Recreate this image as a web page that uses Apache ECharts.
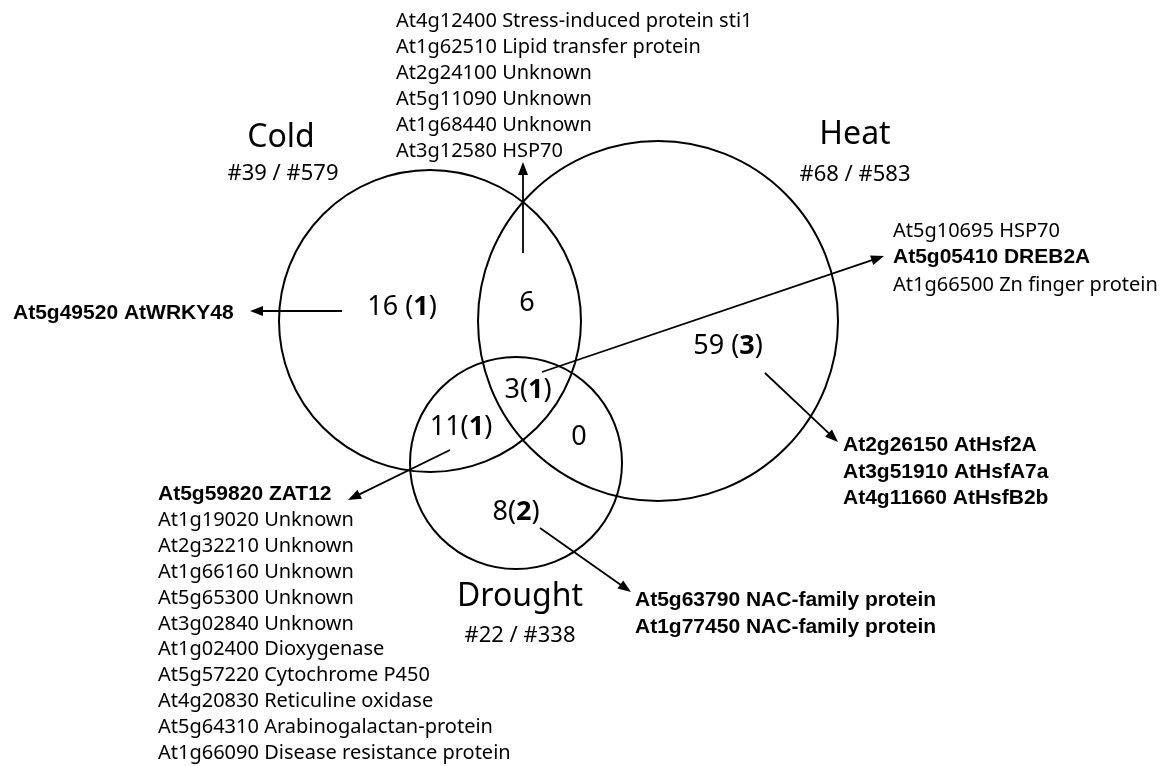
<!DOCTYPE html>
<html><head><meta charset="utf-8">
<script src="https://cdn.jsdelivr.net/npm/echarts@6/dist/echarts.min.js"></script>
<style>html,body{margin:0;padding:0;background:#fff}#c{width:1168px;height:766px}</style>
</head><body><div id="c"></div>
<script>
// ---------------- DATA ----------------
const setNames = ['Cold', 'Heat', 'Drought'];
const setTotals = ['#39 / #579', '#68 / #583', '#22 / #338'];
const regionKeys = ['C', 'CH', 'H', 'CD', 'CHD', 'HD', 'D'];
const regionCounts = [16, 6, 59, 11, 3, 0, 8];
const regionTFs = [1, null, 3, 1, 1, null, 2];

const genesC = ['At5g49520 AtWRKY48'];
const genesCH = [
  'At4g12400 Stress-induced protein sti1',
  'At1g62510 Lipid transfer protein',
  'At2g24100 Unknown',
  'At5g11090 Unknown',
  'At1g68440 Unknown',
  'At3g12580 HSP70'
];
const genesCHD = [
  'At5g10695 HSP70',
  'At5g05410 DREB2A',
  'At1g66500 Zn finger protein'
];
const genesH = [
  'At2g26150 AtHsf2A',
  'At3g51910 AtHsfA7a',
  'At4g11660 AtHsfB2b'
];
const genesCD = [
  'At5g59820 ZAT12',
  'At1g19020 Unknown',
  'At2g32210 Unknown',
  'At1g66160 Unknown',
  'At5g65300 Unknown',
  'At3g02840 Unknown',
  'At1g02400 Dioxygenase',
  'At5g57220 Cytochrome P450',
  'At4g20830 Reticuline oxidase',
  'At5g64310 Arabinogalactan-protein',
  'At1g66090 Disease resistance protein'
];
const genesD = [
  'At5g63790 NAC-family protein',
  'At1g77450 NAC-family protein'
];
const tfGenes = ['At5g49520', 'At5g05410', 'At2g26150', 'At3g51910', 'At4g11660', 'At5g59820', 'At5g63790', 'At1g77450'];

// ---------------- LAYOUT (pixel space of hidden axes) ----------------
const W = 1168, H = 766;
const circleLayout = [
  { cx: 430, cy: 321, r: 151 },
  { cx: 658, cy: 321, r: 180 },
  { cx: 516, cy: 463, r: 106 }
];
const titleLayout = [
  { x: 281, y: 149, tx: 283, ty: 182 },
  { x: 855, y: 146, tx: 855, ty: 183 },
  { x: 520, y: 608, tx: 520, ty: 644 }
];
const regionLayout = {
  C: { x: 402, y: 317, sp: true },
  CH: { x: 527, y: 313, sp: false },
  H: { x: 728, y: 356, sp: true },
  CD: { x: 461, y: 437, sp: false },
  CHD: { x: 528, y: 400, sp: false },
  HD: { x: 579, y: 447, sp: false },
  D: { x: 516, y: 522, sp: false }
};
const arrowLayout = {
  C: [[342, 311], [250, 311]],
  CH: [[523, 253], [523, 162]],
  CHD: [[542, 372], [884, 256]],
  H: [[765, 373], [838, 442]],
  CD: [[450, 450], [348, 500]],
  D: [[540, 528], [631, 592]]
};
const listLayout = {
  C: { x: 13, y: 321, dy: 26, genes: genesC },
  CH: { x: 396, y: 28, dy: 26, genes: genesCH },
  CHD: { x: 893, y: 238, dy: 27, genes: genesCHD },
  H: { x: 843, y: 453, dy: 26.5, genes: genesH },
  CD: { x: 158, y: 502, dy: 25.8, genes: genesCD },
  D: { x: 635, y: 608, dy: 27, genes: genesD }
};

const REG = '"Noto Sans", "Open Sans", sans-serif';
const BOLD = '"Liberation Sans", Arial, sans-serif';

function textEl(api, x, y, text, size, family, weight, align) {
  const p = api.coord([x, y - 0.36 * size]);
  return {
    type: 'text', x: p[0], y: p[1],
    style: { text: text, fill: '#000', fontSize: size, fontFamily: family, fontWeight: weight || 'normal',
      align: align || 'left', verticalAlign: 'middle' }
  };
}

function arrowEls(api, a, b) {
  const p0 = api.coord(a), p1 = api.coord(b);
  const dx = p1[0] - p0[0], dy = p1[1] - p0[1];
  const len = Math.hypot(dx, dy), ux = dx / len, uy = dy / len;
  const hl = 13, hw = 5;
  const bx = p1[0] - ux * hl, by = p1[1] - uy * hl;
  return [
    { type: 'line', shape: { x1: p0[0], y1: p0[1], x2: bx + ux * 2, y2: by + uy * 2 }, style: { stroke: '#000', lineWidth: 1.8 } },
    { type: 'polygon', shape: { points: [[p1[0], p1[1]], [bx - uy * hw, by + ux * hw], [bx + uy * hw, by - ux * hw]] }, style: { fill: '#000' } }
  ];
}

const chart = echarts.init(document.getElementById('c'), null, { renderer: 'canvas' });
chart.setOption({
  backgroundColor: '#fff',
  animation: false,
  grid: { left: 0, right: 0, top: 0, bottom: 0 },
  xAxis: { type: 'value', min: 0, max: W, show: false },
  yAxis: { type: 'value', min: 0, max: H, inverse: true, show: false },
  series: [
    { // circles + set titles
      type: 'custom', coordinateSystem: 'cartesian2d', silent: true,
      data: setNames.map((n, i) => [i, 0]),
      renderItem: function (params, api) {
        const i = params.dataIndex;
        const L = circleLayout[i], T = titleLayout[i];
        const c = api.coord([L.cx, L.cy]);
        const r = api.size([L.r, 0])[0];
        return { type: 'group', children: [
          { type: 'circle', shape: { cx: c[0], cy: c[1], r: r }, style: { fill: 'none', stroke: '#000', lineWidth: 2 } },
          textEl(api, T.x, T.y, setNames[i], 32, REG, 'normal', 'center'),
          textEl(api, T.tx, T.ty, setTotals[i], 22, REG, 'normal', 'center')
        ] };
      }
    },
    { // region counts
      type: 'custom', coordinateSystem: 'cartesian2d', silent: true,
      data: regionKeys.map((k, i) => [i, 0]),
      renderItem: function (params, api) {
        const i = params.dataIndex, k = regionKeys[i], L = regionLayout[k];
        const size = 27;
        const p = api.coord([L.x, L.y - 0.36 * size]);
        const txt = regionTFs[i] == null ? '{n|' + regionCounts[i] + '}'
          : '{n|' + regionCounts[i] + (L.sp ? ' ' : '') + '(}{b|' + regionTFs[i] + '}{n|)}';
        return { type: 'text', x: p[0], y: p[1], style: {
          text: txt, align: 'center', verticalAlign: 'middle',
          rich: {
            n: { fontSize: size, fontFamily: REG, fill: '#000' },
            b: { fontSize: size, fontFamily: REG, fontWeight: 'bold', fill: '#000' }
          }
        } };
      }
    },
    { // arrows and gene lists
      type: 'custom', coordinateSystem: 'cartesian2d', silent: true,
      data: Object.keys(listLayout).map((k, i) => [i, 0]),
      renderItem: function (params, api) {
        const k = Object.keys(listLayout)[params.dataIndex];
        const L = listLayout[k];
        const children = arrowEls(api, arrowLayout[k][0], arrowLayout[k][1]);
        L.genes.forEach(function (g, j) {
          const bold = tfGenes.indexOf(g.split(' ')[0]) >= 0;
          children.push(textEl(api, L.x, L.y + j * L.dy, g, bold ? 21 : 20, bold ? BOLD : REG, bold ? 'bold' : 'normal', 'left'));
        });
        return { type: 'group', children: children };
      }
    }
  ]
});
</script>
</body></html>
